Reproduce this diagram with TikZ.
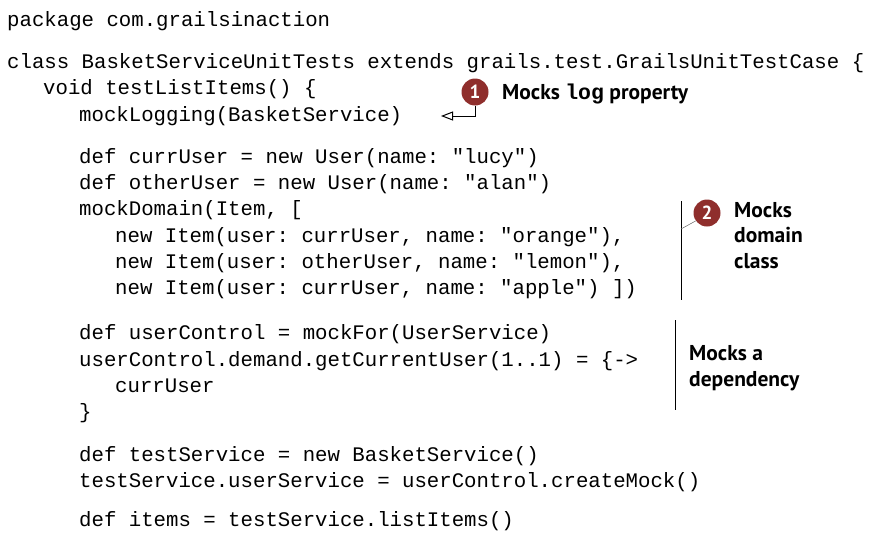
\documentclass[tikz,border=0pt]{standalone}
\usepackage{fontspec}
\setmonofont{Liberation Mono}
\setsansfont{PT Sans}
\usetikzlibrary{arrows.meta}
\definecolor{cueRed}{HTML}{8F2E2C}
\begin{document}
\begin{tikzpicture}[x=1pt,y=-1pt,
  code/.style={anchor=base west, inner sep=0pt, font=\ttfamily\fontsize{20.7}{24}\selectfont},
  note/.style={anchor=base west, inner sep=0pt, align=left, font=\sffamily\bfseries\fontsize{21.5}{25.5}\selectfont},
  cue/.style={circle, fill=cueRed, inner sep=0pt, minimum size=27pt, text=white, font=\sffamily\bfseries\fontsize{19}{19}\selectfont},
  bar/.style={line width=1pt, black},
  leader/.style={line width=0.5pt, black!60}]
\useasboundingbox (0,0) rectangle (873,533);
% code listing
\node[code] (l1)  at (7,26)   {package com.grailsinaction};
\node[code] (l2)  at (7,68)   {class BasketServiceUnitTests extends grails.test.GrailsUnitTestCase \{};
\node[code] (l3)  at (43,94)  {void testListItems() \{};
\node[code] (l4)  at (79,121) {mockLogging(BasketService)};
\node[code] (l5)  at (79,163) {def currUser = new User(name: "lucy")};
\node[code] (l6)  at (79,189) {def otherUser = new User(name: "alan")};
\node[code] (l7)  at (79,215) {mockDomain(Item, [};
\node[code] (l8)  at (115,242) {new Item(user: currUser, name: "orange"),};
\node[code] (l9)  at (115,268) {new Item(user: otherUser, name: "lemon"),};
\node[code] (l10) at (115,294) {new Item(user: currUser, name: "apple") ]{)}};
\node[code] (l11) at (79,339) {def userControl = mockFor(UserService)};
\node[code] (l12) at (79,366) {userControl.demand.getCurrentUser(1..1) = \{->};
\node[code] (l13) at (115,392) {currUser};
\node[code] (l14) at (79,418) {\}};
\node[code] (l15) at (79,461) {def testService = new BasketService()};
\node[code] (l16) at (79,487) {testService.userService = userControl.createMock()};
\node[code] (l17) at (79,526) {def items = testService.listItems()};
% annotation 1
\node[cue] (c1) at (475,92) {1};
\node[note] (n1) at (502,99.5) {Mocks {\ttfamily\bfseries log} property};
\coordinate (t1) at (441,116);
\draw[line width=1pt, -{Triangle[open,length=12pt,width=9pt]}] (c1.south) |- (t1);
% annotation 2
\coordinate (b2t) at (681,201);
\coordinate (b2b) at (681,300);
\coordinate (b2j) at (681,229);
\draw[bar] (b2t) -- (b2b);
\node[cue] (c2) at (707,213) {2};
\draw[leader] (c2.215) -- (b2j);
\node[note] (n2) at (734,268) {Mocks\\domain\\class};
% annotation 3
\coordinate (b3t) at (675,320);
\coordinate (b3b) at (675,410);
\draw[bar] (b3t) -- (b3b);
\node[note] (n3) at (689,386) {Mocks a\\dependency};
\end{tikzpicture}
\end{document}
